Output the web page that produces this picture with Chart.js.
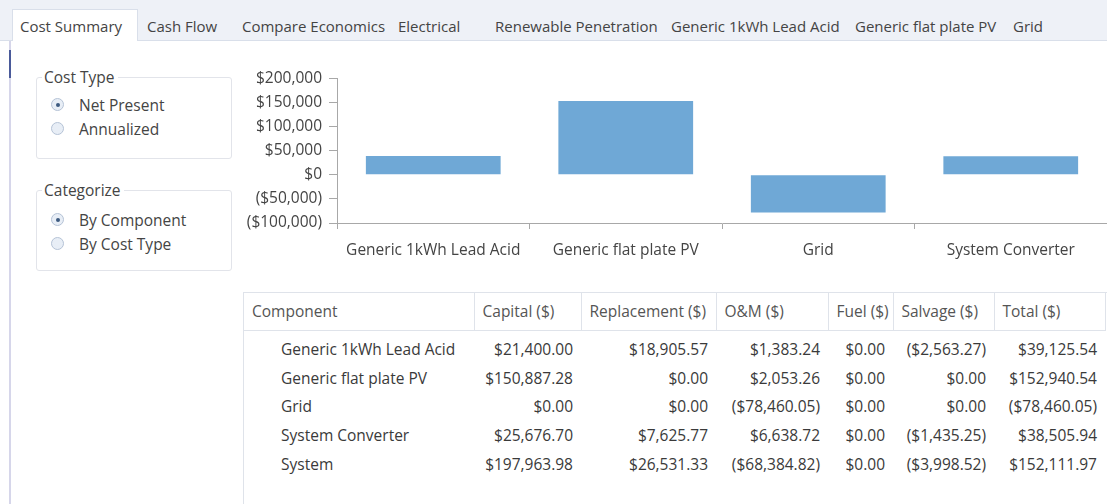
<!DOCTYPE html>
<html>
<head>
<meta charset="utf-8">
<script src="https://cdn.jsdelivr.net/npm/chart.js@4"></script>
<style>
  html, body { margin: 0; padding: 0; }
  body { width: 1107px; height: 504px; position: relative; overflow: hidden; background: #fff;
         font-family: "Open Sans", "Noto Sans", sans-serif; color: #3c3c3c; font-size: 15.5px; }
  .strip { position: absolute; left: 0; top: 0; width: 1107px; height: 40px; background: #eef1f7;
           border-bottom: 1px solid #d9dfea; }
  .tab { position: absolute; top: 16px; font-size: 15px; color: #444; white-space: nowrap; }
  .tab.sel { top: 9px; left: 12px; width: 126px; height: 32px; background: #fff; border: 1px solid #d9dfea;
             border-bottom: none; box-sizing: border-box; }
  .tab.sel span { position: absolute; left: 7px; top: 6px; }
  .edge { position: absolute; left: 9px; top: 41px; width: 2px; height: 463px; background: #d6d6ea; }
  .edge2 { position: absolute; left: 9px; top: 50px; width: 2px; height: 28px; background: #4a5a9a; }
  .group { position: absolute; left: 36px; width: 196px; border: 1px solid #e2e4ea; border-radius: 3px; box-sizing: border-box; }
  .group .lbl { position: absolute; left: 5px; top: -12px; background: #fff; padding: 0 3px 0 2px; font-size: 15.5px; color: #444; }
  .radio { position: absolute; left: 14px; font-size: 15.5px; color: #444; white-space: nowrap; }
  .radio i { position: absolute; left: 0; top: 4px; width: 13px; height: 13px; border-radius: 50%;
             border: 1px solid #b5c3d6; background: #e8eef6; box-sizing: border-box; }
  .radio.on i::after { content: ""; position: absolute; left: 3.5px; top: 3.5px; width: 4px; height: 4px; border-radius: 50%; background: #3d5a80; }
  .radio span { position: absolute; left: 28px; top: 0; }
  #chartBox { position: absolute; left: 240px; top: 62px; width: 867px; height: 206px; }
  .tbl { position: absolute; left: 243px; top: 292px; width: 880px; height: 220px; border: 1px solid #dfe3ea; box-sizing: border-box; }
  table { border-collapse: collapse; font-size: 15.5px; color: #3a3a3a; }
  th { font-weight: normal; text-align: left; height: 37px; padding: 0 0 0 8px; color: #555;
       border-right: 1px solid #dfe3ea; border-bottom: 1px solid #dfe3ea; box-sizing: border-box; white-space: nowrap; }
  td { height: 28.7px; padding: 0 8px 0 0; text-align: right; white-space: nowrap; }
  td.name { text-align: left; padding-left: 37px; }
</style>
</head>
<body>
<div class="strip"></div>
<div class="tab sel"><span>Cost Summary</span></div>
<div class="tab" style="left:147px">Cash Flow</div>
<div class="tab" style="left:242px">Compare Economics</div>
<div class="tab" style="left:398px">Electrical</div>
<div class="tab" style="left:495px">Renewable Penetration</div>
<div class="tab" style="left:671px">Generic 1kWh Lead Acid</div>
<div class="tab" style="left:855px">Generic flat plate PV</div>
<div class="tab" style="left:1013px">Grid</div>
<div class="edge"></div>
<div class="edge2"></div>

<div class="group" style="top:77px;height:82px">
  <div class="lbl">Cost Type</div>
  <div class="radio on" style="top:16px"><i></i><span>Net Present</span></div>
  <div class="radio" style="top:40px"><i></i><span>Annualized</span></div>
</div>
<div class="group" style="top:190px;height:81px">
  <div class="lbl">Categorize</div>
  <div class="radio on" style="top:18px"><i></i><span>By Component</span></div>
  <div class="radio" style="top:42px"><i></i><span>By Cost Type</span></div>
</div>

<div id="chartBox"><canvas id="costChart"></canvas></div>

<div class="tbl"><table id="costTable"></table></div>

<script>
const components = ['Generic 1kWh Lead Acid', 'Generic flat plate PV', 'Grid', 'System Converter'];
const capital = [21400.00, 150887.28, 0.00, 25676.70];
const replacement = [18905.57, 0.00, 0.00, 7625.77];
const om = [1383.24, 2053.26, -78460.05, 6638.72];
const fuel = [0.00, 0.00, 0.00, 0.00];
const salvage = [-2563.27, 0.00, 0.00, -1435.25];
const total = [39125.54, 152940.54, -78460.05, 38505.94];
const systemRow = [197963.98, 26531.33, -68384.82, 0.00, -3998.52, 152111.97];
const columns = ['Component', 'Capital ($)', 'Replacement ($)', 'O&M ($)', 'Fuel ($)', 'Salvage ($)', 'Total ($)'];
const columnWidths = [230, 107, 135, 112, 65, 101, 111];
const yTicks = [-100000, -50000, 0, 50000, 100000, 150000, 200000];

function money(v, dec) {
    const s = '$' + Math.abs(v).toLocaleString('en-US', { minimumFractionDigits: dec, maximumFractionDigits: dec });
    return v < 0 ? '(' + s + ')' : s;
}

// table
const table = document.getElementById('costTable');
let html = '<tr>' + columns.map((c, i) => `<th style="width:${columnWidths[i]}px">${c}</th>`).join('') + '</tr>';
const rows = components.map((c, i) => [c, capital[i], replacement[i], om[i], fuel[i], salvage[i], total[i]]);
rows.push(['System'].concat(systemRow));
html += '<tr style="height:4px"><td colspan="7" style="height:4px"></td></tr>';
rows.forEach(r => {
    html += '<tr>' + r.map((v, i) => i === 0 ? `<td class="name">${v}</td>` : `<td>${money(v, 2)}</td>`).join('') + '</tr>';
});
table.innerHTML = html;

// chart
const ctx = document.getElementById('costChart').getContext('2d');
new Chart(ctx, {
    type: 'bar',
    data: {
        labels: components,
        datasets: [{
            data: total,
            backgroundColor: '#6fa8d6',
            categoryPercentage: 0.7,
            barPercentage: 1.0
        }]
    },
    options: {
        responsive: true,
        maintainAspectRatio: false,
        animation: false,
        layout: { padding: { top: 11, right: 0, left: 0, bottom: 0 } },
        plugins: { legend: { display: false }, tooltip: { enabled: false } },
        scales: {
            x: {
                grid: { display: true, drawOnChartArea: false, offset: true, tickLength: 6, color: '#a8a8a8' },
                border: { color: '#a8a8a8' },
                ticks: { color: '#444', font: { family: 'Open Sans', size: 15.5 }, padding: 12, maxRotation: 0 },
                afterFit: s => { s.height = 45; }
            },
            y: {
                min: -100000,
                max: 200000,
                afterBuildTicks: s => { s.ticks = yTicks.map(v => ({ value: v })); },
                grid: { display: true, drawOnChartArea: false, tickLength: 8, color: '#a8a8a8' },
                border: { color: '#a8a8a8' },
                ticks: { color: '#444', font: { family: 'Open Sans', size: 15.5 }, padding: 7,
                         callback: v => money(v, 0) },
                afterFit: s => { s.width = 97; }
            }
        }
    }
});
</script>
</body>
</html>
